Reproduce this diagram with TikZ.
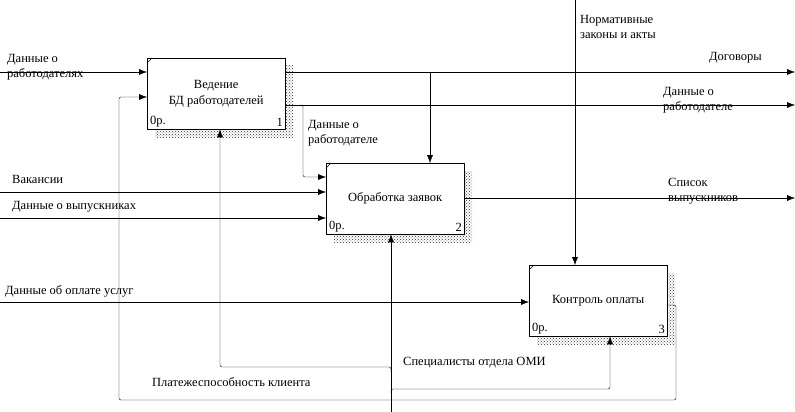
\documentclass[tikz,border=0pt]{standalone}
\usepackage{fontspec}
\setmainfont{Liberation Serif}
\usetikzlibrary{patterns,arrows.meta}
\begin{document}
\begin{tikzpicture}[x=1pt,y=-1pt,
  lbl/.style={font=\fontsize{12.5}{15}\selectfont,anchor=north west,inner sep=0pt,align=left},
  arr/.style={-{Latex[length=8pt,width=6pt]},rounded corners=2pt},
  fn/.style={draw,fill=white,minimum width=138pt,minimum height=71pt,inner sep=0pt,font=\fontsize{12.5}{16}\selectfont,align=center}]
\useasboundingbox[fill=white] (0,0) rectangle (795,412);
% boxes
\foreach \x/\y/\n/\t/\k in {147/58/b1/{Ведение\\БД работодателей}/1, 326/163/b2/{Обработка заявок}/2, 529/265/b3/{Контроль оплаты}/3}{
  \fill[pattern=crosshatch dots,pattern color=black!80] (\x+8,\y+8) rectangle (\x+146,\y+79);
  \node[fn,anchor=north west] (\n) at (\x,\y) {\t};
  \draw (\x,\y+5) -- (\x+5,\y);
  \node[lbl,anchor=south west] at (\x+3,\y+69) {0р.};
  \node[lbl,anchor=south east] at (\x+136,\y+69) {\k};
}
\coordinate (s1) at (0,72); \coordinate (s2) at (0,192); \coordinate (s3) at (0,218); \coordinate (s4) at (0,302);
\coordinate (e1) at (795,72); \coordinate (e2) at (795,105); \coordinate (e3) at (795,198);
\coordinate (top) at (575,0); \coordinate (bot) at (391,412);
\draw[arr] (s1) -- (b1.west|-s1);
\draw[arr] (s2) -- (b2.west|-s2);
\draw[arr] (s3) -- (b2.west|-s3);
\draw[arr] (s4) -- (b3.west|-s4);
\draw[arr] (b1.east|-e1) -- (e1);
\draw[arr] (b1.east|-e2) -- (e2);
\draw[arr] (b2.east|-e3) -- (e3);
\draw[arr] (430,72) -- (b2.north-|430,0);
\draw[arr] (300,105) -- (303,105) -- (303,177) -- (b2.west|-0,177);
\draw[arr] (top) -- (b3.north-|top);
\draw[arr] (bot) -- (b2.south-|bot);
\draw[arr] (391,372) -- (391,367) -- (220,367) -- (b1.south-|220,0);
\draw[arr] (391,393) -- (391,389) -- (610,389) -- (b3.south-|610,0);
\draw[arr] (b3.east|-0,305) -- (676,305) -- (676,400) -- (119,400) -- (119,97) -- (b1.west|-0,97);
% labels
\node[lbl] at (7,54) {Данные о\\работодателях};
\node[lbl] at (12,175) {Вакансии};
\node[lbl] at (12,201) {Данные о выпускниках};
\node[lbl] at (5,285) {Данные об оплате услуг};
\node[lbl] at (580,15) {Нормативные\\законы и акты};
\node[lbl] at (709,52) {Договоры};
\node[lbl] at (663,87) {Данные о\\работодателе};
\node[lbl] at (308,120) {Данные о\\работодателе};
\node[lbl] at (668,178) {Список\\выпускников};
\node[lbl] at (403,357) {Специалисты отдела ОМИ};
\node[lbl] at (152,377) {Платежеспособность клиента};
\end{tikzpicture}
\end{document}
